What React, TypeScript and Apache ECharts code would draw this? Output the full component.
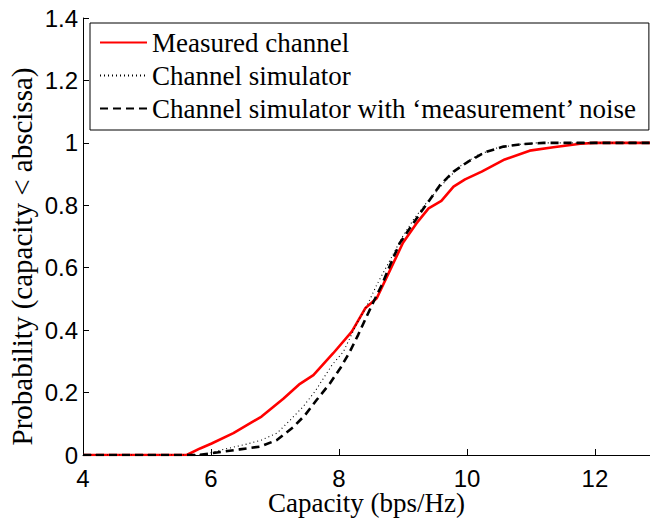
import React, { useEffect, useRef } from "react";
import * as echarts from "echarts";

const xTicks = { min: 4, max: 12.86, interval: 2 };
const yTicks = { min: 0, max: 1.4, interval: 0.2 };

const seriesNames = [
  "Measured channel",
  "Channel simulator",
  "Channel simulator with \u2018measurement\u2019 noise",
];

const measured: [number, number][] = [
  [4, 0], [5.62, 0], [5.83, 0.021], [6.01, 0.037], [6.35, 0.07], [6.79, 0.123],
  [7.13, 0.18], [7.39, 0.228], [7.6, 0.256], [7.91, 0.326], [8.2, 0.395],
  [8.41, 0.47], [8.59, 0.502], [8.8, 0.593], [9.0, 0.68], [9.21, 0.742],
  [9.4, 0.79], [9.6, 0.814], [9.79, 0.86], [9.97, 0.883], [10.23, 0.908],
  [10.59, 0.947], [10.98, 0.975], [11.35, 0.986], [11.77, 0.997], [12.0, 1.0],
  [13, 1.0],
];

const simulator: [number, number][] = [
  [4, 0], [5.9, 0], [6.01, 0.008], [6.24, 0.02], [6.56, 0.035], [6.79, 0.048],
  [7.03, 0.07], [7.23, 0.11], [7.44, 0.155], [7.63, 0.205], [7.89, 0.288],
  [8.07, 0.331], [8.28, 0.422], [8.43, 0.475], [8.59, 0.545], [8.8, 0.625],
  [8.98, 0.695], [9.16, 0.753], [9.34, 0.801], [9.63, 0.87], [9.89, 0.925],
  [10.18, 0.962], [10.46, 0.983], [10.77, 0.994], [11.1, 1.0], [13, 1.0],
];

const simulatorNoise: [number, number][] = [
  [4, 0], [5.8, 0], [6.17, 0.01], [6.45, 0.018], [6.77, 0.027], [7.03, 0.048],
  [7.29, 0.09], [7.47, 0.128], [7.65, 0.176], [7.86, 0.23], [8.02, 0.278],
  [8.17, 0.331], [8.3, 0.385], [8.43, 0.443], [8.54, 0.491], [8.67, 0.545],
  [8.8, 0.609], [8.95, 0.679], [9.11, 0.727], [9.27, 0.775], [9.4, 0.812],
  [9.58, 0.865], [9.79, 0.908], [10.02, 0.94], [10.28, 0.97], [10.57, 0.988],
  [10.88, 0.996], [11.2, 1.0], [13, 1.0],
];

const SERIF = "Liberation Serif";
const SANS = "Liberation Sans";

export default function App() {
  const ref = useRef<HTMLDivElement>(null);
  useEffect(() => {
    if (!ref.current) return;
    const chart = echarts.init(ref.current, undefined, { renderer: "svg" });
    const axisCommon = {
      axisLine: { show: true, lineStyle: { color: "#000", width: 1 } },
      axisTick: { show: true, inside: true, length: 6, lineStyle: { color: "#000" } },
      splitLine: { show: false },
      axisLabel: { color: "#000", fontFamily: SANS, fontSize: 24, showMaxLabel: false },
      nameLocation: "middle" as const,
      nameMoveOverlap: false,
    };
    chart.setOption({
      animation: false,
      backgroundColor: "#fff",
      grid: {
        left: 83,
        right: 0,
        top: 18,
        bottom: 64,
        containLabel: false,
        outerBoundsMode: "none",
      },
      xAxis: {
        type: "value",
        min: xTicks.min,
        max: xTicks.max,
        interval: xTicks.interval,
        name: "Capacity (bps/Hz)",
        nameGap: 34,
        nameTextStyle: { color: "#000", fontFamily: SERIF, fontSize: 27 },
        ...axisCommon,
        axisLabel: { ...axisCommon.axisLabel, margin: 11 },
      },
      yAxis: {
        type: "value",
        min: yTicks.min,
        max: yTicks.max,
        interval: yTicks.interval,
        name: "Probability (capacity < abscissa)",
        nameGap: 47,
        nameTextStyle: { color: "#000", fontFamily: SERIF, fontSize: 29, padding: [0, 40, 0, 0] },
        ...axisCommon,
        axisLabel: { ...axisCommon.axisLabel, margin: 5, showMaxLabel: true },
      },
      legend: {
        show: true,
        orient: "vertical",
        left: 90,
        top: 23,
        padding: [6, 11, 8, 9],
        borderColor: "#000",
        borderWidth: 1,
        backgroundColor: "#fff",
        itemWidth: 47,
        itemHeight: 14,
        itemGap: 6,
        itemStyle: { opacity: 0 },
        textStyle: { color: "#000", fontFamily: SERIF, fontSize: 27 },
        data: seriesNames,
      },
      series: [
        {
          name: seriesNames[0],
          type: "line",
          data: measured,
          symbol: "none",
          lineStyle: { color: "#ff0000", width: 2.6, type: "solid" },
          itemStyle: { color: "#ff0000" },
        },
        {
          name: seriesNames[1],
          type: "line",
          data: simulator,
          symbol: "none",
          lineStyle: { color: "#000", width: 1.1, type: [1, 3] },
          itemStyle: { color: "#000" },
        },
        {
          name: seriesNames[2],
          type: "line",
          data: simulatorNoise,
          symbol: "none",
          lineStyle: { color: "#000", width: 2.6, type: [8, 5] },
          itemStyle: { color: "#000" },
        },
      ],
    });
    return () => chart.dispose();
  }, []);
  return (
    <div
      ref={ref}
      style={{ position: "absolute", left: 0, top: 0, width: 650, height: 519 }}
    />
  );
}
